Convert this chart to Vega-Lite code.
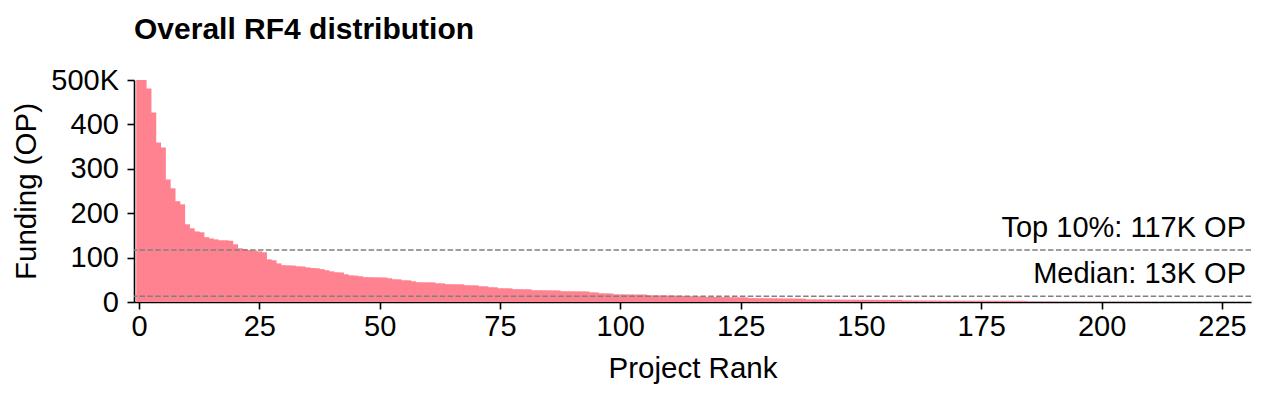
{
  "$schema": "https://vega.github.io/schema/vega-lite/v6.json",
  "width": 1117,
  "height": 222,
  "autosize": {"type": "none"},
  "padding": {"left": 134, "top": 80, "right": 14, "bottom": 92},
  "background": "white",
  "title": {
    "text": "Overall RF4 distribution",
    "anchor": "start",
    "frame": "group",
    "font": "Liberation Sans",
    "fontSize": 30,
    "fontWeight": "bold",
    "color": "black",
    "baseline": "alphabetic",
    "offset": -3
  },
  "config": {
    "view": {"stroke": null},
    "axis": {
      "grid": false,
      "domainColor": "black",
      "domainWidth": 1.6,
      "tickColor": "black",
      "tickWidth": 1.6,
      "tickSize": 7,
      "labelFont": "Liberation Sans",
      "labelFontSize": 29,
      "labelColor": "black",
      "titleFont": "Liberation Sans",
      "titleFontSize": 29.5,
      "titleFontWeight": "normal",
      "titleColor": "black"
    }
  },
  "layer": [
    {
      "data": {
        "values": [
          {"rank": 0, "funding": 500}, {"rank": 1, "funding": 500}, {"rank": 2, "funding": 481}, {"rank": 3, "funding": 427},
          {"rank": 4, "funding": 359}, {"rank": 5, "funding": 348}, {"rank": 6, "funding": 276}, {"rank": 7, "funding": 256},
          {"rank": 8, "funding": 227}, {"rank": 9, "funding": 220}, {"rank": 10, "funding": 175}, {"rank": 11, "funding": 166},
          {"rank": 12, "funding": 159}, {"rank": 13, "funding": 157}, {"rank": 14, "funding": 146}, {"rank": 15, "funding": 143},
          {"rank": 16, "funding": 141}, {"rank": 17, "funding": 139}, {"rank": 18, "funding": 139}, {"rank": 19, "funding": 138},
          {"rank": 20, "funding": 130}, {"rank": 21, "funding": 121}, {"rank": 22, "funding": 119}, {"rank": 23, "funding": 117},
          {"rank": 24, "funding": 116}, {"rank": 25, "funding": 114}, {"rank": 26, "funding": 112}, {"rank": 27, "funding": 96},
          {"rank": 28, "funding": 94}, {"rank": 29, "funding": 87}, {"rank": 30, "funding": 83}, {"rank": 31, "funding": 82.5},
          {"rank": 32, "funding": 82}, {"rank": 33, "funding": 80.5}, {"rank": 34, "funding": 80}, {"rank": 35, "funding": 78},
          {"rank": 36, "funding": 76.5}, {"rank": 37, "funding": 76}, {"rank": 38, "funding": 74}, {"rank": 39, "funding": 71.5},
          {"rank": 40, "funding": 69}, {"rank": 41, "funding": 67}, {"rank": 42, "funding": 66.5}, {"rank": 43, "funding": 62.5},
          {"rank": 44, "funding": 60}, {"rank": 45, "funding": 59.5}, {"rank": 46, "funding": 58}, {"rank": 47, "funding": 56},
          {"rank": 48, "funding": 55.8}, {"rank": 49, "funding": 55.6}, {"rank": 50, "funding": 55.4}, {"rank": 51, "funding": 55.2},
          {"rank": 52, "funding": 53.4}, {"rank": 53, "funding": 51.3}, {"rank": 54, "funding": 51}, {"rank": 55, "funding": 49},
          {"rank": 56, "funding": 48.8}, {"rank": 57, "funding": 46.7}, {"rank": 58, "funding": 44.6}, {"rank": 59, "funding": 44.4},
          {"rank": 60, "funding": 44.3}, {"rank": 61, "funding": 44.2}, {"rank": 62, "funding": 42.2}, {"rank": 63, "funding": 42},
          {"rank": 64, "funding": 40.2}, {"rank": 65, "funding": 40}, {"rank": 66, "funding": 39.9}, {"rank": 67, "funding": 39.8},
          {"rank": 68, "funding": 37.8}, {"rank": 69, "funding": 37.6}, {"rank": 70, "funding": 37.5}, {"rank": 71, "funding": 35.5},
          {"rank": 72, "funding": 35.3}, {"rank": 73, "funding": 33.3}, {"rank": 74, "funding": 33.1}, {"rank": 75, "funding": 31},
          {"rank": 76, "funding": 30.9}, {"rank": 77, "funding": 30.8}, {"rank": 78, "funding": 28.9}, {"rank": 79, "funding": 28.8},
          {"rank": 80, "funding": 28.7}, {"rank": 81, "funding": 28.6}, {"rank": 82, "funding": 26.6}, {"rank": 83, "funding": 26.5},
          {"rank": 84, "funding": 26.4}, {"rank": 85, "funding": 26.3}, {"rank": 86, "funding": 26.2}, {"rank": 87, "funding": 26.1},
          {"rank": 88, "funding": 24.3}, {"rank": 89, "funding": 24.2}, {"rank": 90, "funding": 24.1}, {"rank": 91, "funding": 24},
          {"rank": 92, "funding": 23.9}, {"rank": 93, "funding": 23.8}, {"rank": 94, "funding": 21.8}, {"rank": 95, "funding": 21.6},
          {"rank": 96, "funding": 19.6}, {"rank": 97, "funding": 19.4}, {"rank": 98, "funding": 19.2}, {"rank": 99, "funding": 17.3},
          {"rank": 100, "funding": 17.2}, {"rank": 101, "funding": 17.1}, {"rank": 102, "funding": 17}, {"rank": 103, "funding": 16.9},
          {"rank": 104, "funding": 16.8}, {"rank": 105, "funding": 16.7}, {"rank": 106, "funding": 15}, {"rank": 107, "funding": 14.9},
          {"rank": 108, "funding": 14.8}, {"rank": 109, "funding": 14.6}, {"rank": 110, "funding": 14.5}, {"rank": 111, "funding": 14.3},
          {"rank": 112, "funding": 14.1}, {"rank": 113, "funding": 13.9}, {"rank": 114, "funding": 13.2}, {"rank": 115, "funding": 12.9},
          {"rank": 116, "funding": 12.6}, {"rank": 117, "funding": 12.2}, {"rank": 118, "funding": 11.5}, {"rank": 119, "funding": 11.4},
          {"rank": 120, "funding": 11.2}, {"rank": 121, "funding": 11.1}, {"rank": 122, "funding": 11}, {"rank": 123, "funding": 10.8},
          {"rank": 124, "funding": 10.6}, {"rank": 125, "funding": 10.5}, {"rank": 126, "funding": 10.3}, {"rank": 127, "funding": 8.8},
          {"rank": 128, "funding": 8.7}, {"rank": 129, "funding": 8.6}, {"rank": 130, "funding": 8.5}, {"rank": 131, "funding": 8.4},
          {"rank": 132, "funding": 8.3}, {"rank": 133, "funding": 8.2}, {"rank": 134, "funding": 8}, {"rank": 135, "funding": 7.9},
          {"rank": 136, "funding": 7.8}, {"rank": 137, "funding": 7.6}, {"rank": 138, "funding": 7.5}, {"rank": 139, "funding": 6},
          {"rank": 140, "funding": 5.9}, {"rank": 141, "funding": 5.8}, {"rank": 142, "funding": 5.7}, {"rank": 143, "funding": 5.6},
          {"rank": 144, "funding": 5.5}, {"rank": 145, "funding": 5.4}, {"rank": 146, "funding": 5.3}, {"rank": 147, "funding": 5.2},
          {"rank": 148, "funding": 5.1}, {"rank": 149, "funding": 5.1}, {"rank": 150, "funding": 5}, {"rank": 151, "funding": 5},
          {"rank": 152, "funding": 4.9}, {"rank": 153, "funding": 4.9}, {"rank": 154, "funding": 4.8}, {"rank": 155, "funding": 4.8},
          {"rank": 156, "funding": 4.7}, {"rank": 157, "funding": 4.7}, {"rank": 158, "funding": 4.6}, {"rank": 159, "funding": 3.5},
          {"rank": 160, "funding": 3.5}, {"rank": 161, "funding": 3.4}, {"rank": 162, "funding": 3.4}, {"rank": 163, "funding": 3.3},
          {"rank": 164, "funding": 3.3}, {"rank": 165, "funding": 3.2}, {"rank": 166, "funding": 3.2}, {"rank": 167, "funding": 3.1},
          {"rank": 168, "funding": 3.1}, {"rank": 169, "funding": 3.1}, {"rank": 170, "funding": 3}, {"rank": 171, "funding": 3},
          {"rank": 172, "funding": 3}, {"rank": 173, "funding": 2.9}, {"rank": 174, "funding": 2.9}, {"rank": 175, "funding": 2.9},
          {"rank": 176, "funding": 2.8}, {"rank": 177, "funding": 2.8}, {"rank": 178, "funding": 2.8}, {"rank": 179, "funding": 2.7},
          {"rank": 180, "funding": 2.7}, {"rank": 181, "funding": 2.7}, {"rank": 182, "funding": 2.6}, {"rank": 183, "funding": 2.6},
          {"rank": 184, "funding": 2.6}, {"rank": 185, "funding": 0.9}, {"rank": 186, "funding": 0.9}, {"rank": 187, "funding": 0.85},
          {"rank": 188, "funding": 0.85}, {"rank": 189, "funding": 0.8}, {"rank": 190, "funding": 0.8}, {"rank": 191, "funding": 0.75},
          {"rank": 192, "funding": 0.75}, {"rank": 193, "funding": 0.7}, {"rank": 194, "funding": 0.7}, {"rank": 195, "funding": 0.65},
          {"rank": 196, "funding": 0.65}, {"rank": 197, "funding": 0.6}, {"rank": 198, "funding": 0.6}, {"rank": 199, "funding": 0.55},
          {"rank": 200, "funding": 0.55}, {"rank": 201, "funding": 0.5}, {"rank": 202, "funding": 0.5}, {"rank": 203, "funding": 0.45},
          {"rank": 204, "funding": 0.45}, {"rank": 205, "funding": 0.4}, {"rank": 206, "funding": 0.4}, {"rank": 207, "funding": 0.38},
          {"rank": 208, "funding": 0.36}, {"rank": 209, "funding": 0.34}, {"rank": 210, "funding": 0.32}, {"rank": 211, "funding": 0.3},
          {"rank": 212, "funding": 0.28}, {"rank": 213, "funding": 0.26}, {"rank": 214, "funding": 0.24}, {"rank": 215, "funding": 0.22},
          {"rank": 216, "funding": 0.2}, {"rank": 217, "funding": 0.19}, {"rank": 218, "funding": 0.18}, {"rank": 219, "funding": 0.17},
          {"rank": 220, "funding": 0.16}, {"rank": 221, "funding": 0.15}, {"rank": 222, "funding": 0.14}, {"rank": 223, "funding": 0.13},
          {"rank": 224, "funding": 0.12}, {"rank": 225, "funding": 0.11}, {"rank": 226, "funding": 0.1}, {"rank": 227, "funding": 0.09},
          {"rank": 228, "funding": 0.08}, {"rank": 229, "funding": 0.07}
        ]
      },
      "mark": {"type": "bar", "color": "#ff8290", "width": 5.6, "clip": true, "opacity": 1},
      "encoding": {
        "x": {
          "field": "rank",
          "type": "quantitative",
          "scale": {"domain": [0, 230], "nice": false, "zero": false},
          "axis": {
            "title": "Project Rank",
            "values": [0, 25, 50, 75, 100, 125, 150, 175, 200, 225],
            "labelPadding": 3.5,
            "labelFlush": false,
            "titleBaseline": "alphabetic",
            "titleY": 75
          }
        },
        "y": {
          "field": "funding",
          "type": "quantitative",
          "scale": {"domain": [0, 500], "nice": false},
          "axis": {
            "title": "Funding (OP)",
            "values": [0, 100, 200, 300, 400, 500],
            "format": "d",
            "labelExpr": "datum.value == 500 ? '500K' : datum.label",
            "labelPadding": 8.5,
            "labelFlush": false,
            "titleBaseline": "alphabetic",
            "titleX": -99
          }
        }
      }
    },
    {
      "data": {
        "values": [
          {"label": "Top 10%: 117K OP", "value": 117},
          {"label": "Median: 13K OP", "value": 13}
        ]
      },
      "layer": [
        {
          "mark": {"type": "rule", "color": "#808080", "strokeWidth": 1.5, "strokeDash": [5.5, 2.4]},
          "encoding": {
            "y": {"field": "value", "type": "quantitative"}
          }
        },
        {
          "mark": {
            "type": "text",
            "align": "right",
            "baseline": "alphabetic",
            "dy": -13,
            "font": "Liberation Sans",
            "fontSize": 29,
            "color": "black"
          },
          "encoding": {
            "x": {"datum": 230, "type": "quantitative"},
            "y": {"field": "value", "type": "quantitative"},
            "text": {"field": "label"}
          }
        }
      ]
    }
  ]
}
